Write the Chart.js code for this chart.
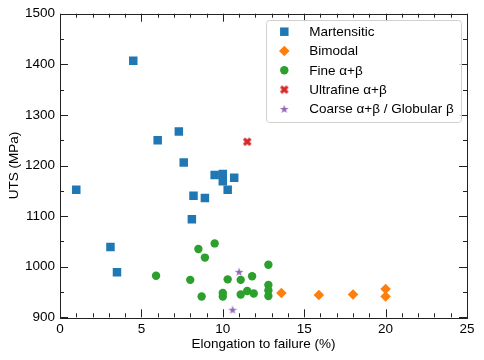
<!DOCTYPE html>
<html>
<head>
<meta charset="utf-8">
<script src="https://cdn.jsdelivr.net/npm/chart.js@4.4.1/dist/chart.umd.min.js"></script>
<style>
  html, body { margin: 0; padding: 0; background: #fff; }
</style>
</head>
<body>
<canvas id="uts" width="484" height="360"></canvas>
<script>
// --- dati ---
const martX = [1.0, 3.1, 3.5, 4.5, 6.0, 7.3, 7.6, 8.1, 8.2, 8.9, 9.5, 10.0, 10.0, 10.3, 10.7];
const martY = [1152, 1039, 989, 1407, 1250, 1267, 1206, 1094, 1140, 1136, 1181, 1183, 1169, 1152, 1176];

const bimoX = [13.6, 15.9, 18.0, 20.0, 20.0];
const bimoY = [948, 944, 945, 956, 941];

const fineX = [5.9, 8.0, 8.5, 8.7, 8.9, 9.5, 10.0, 10.0, 10.3, 11.1, 11.1, 11.5, 11.8, 11.9, 12.8, 12.8, 12.8, 12.8];
const fineY = [982, 974, 1035, 941, 1018, 1046, 948, 941, 975, 974, 945, 952, 981, 947, 1004, 964, 953, 942];

const ultraX = [11.5];
const ultraY = [1247];

const coarseX = [11.0, 10.6];
const coarseY = [990, 915];

const labels = ['Martensitic', 'Bimodal', 'Fine α+β', 'Ultrafine α+β', 'Coarse α+β / Globular β'];
const colors = ['#1f77b4', '#ff7f0e', '#2ca02c', '#d62728', '#9467bd'];

const xTicks = [0, 5, 10, 15, 20, 25];
const yTicks = [900, 1000, 1100, 1200, 1300, 1400, 1500];

const FONT = '"Liberation Sans", Arial, sans-serif';
const FSIZE = 13.5;

// --- marker personalizzati (X pieno e stella piena) ---
function makeX(color) {
  const c = document.createElement('canvas');
  c.width = 10; c.height = 10;
  const g = c.getContext('2d');
  g.strokeStyle = color;
  g.lineWidth = 3.2;
  g.beginPath();
  g.moveTo(1.8, 1.8); g.lineTo(8.2, 8.2);
  g.moveTo(8.2, 1.8); g.lineTo(1.8, 8.2);
  g.stroke();
  return c;
}

function makeStar(color) {
  const c = document.createElement('canvas');
  c.width = 10; c.height = 10;
  const g = c.getContext('2d');
  g.fillStyle = color;
  g.beginPath();
  for (let i = 0; i < 10; i++) {
    const r = i % 2 === 0 ? 4.6 : 1.8;
    const a = -Math.PI / 2 + i * Math.PI / 5;
    g.lineTo(5 + r * Math.cos(a), 5.4 + r * Math.sin(a));
  }
  g.closePath();
  g.fill();
  return c;
}

const styles = ['rect', 'rectRot', 'circle', makeX(colors[3]), makeStar(colors[4])];
const radii = [6, 5.3, 4.2, 5, 5];

function pts(xs, ys) {
  return xs.map((v, i) => ({ x: v, y: ys[i] }));
}

const series = [pts(martX, martY), pts(bimoX, bimoY), pts(fineX, fineY), pts(ultraX, ultraY), pts(coarseX, coarseY)];

// --- tacche interne su tutti i lati + cornice ---
const frameTicks = {
  id: 'frameTicks',
  afterDatasetsDraw(chart) {
    const { ctx, chartArea: a, scales: { x, y } } = chart;
    ctx.save();
    ctx.strokeStyle = '#222';
    ctx.lineWidth = 1;
    ctx.beginPath();
    for (let v = 0; v <= 25; v += 1) {
      const px = Math.round(x.getPixelForValue(v)) + 0.5;
      const len = v % 5 === 0 ? 8 : 4;
      ctx.moveTo(px, a.bottom); ctx.lineTo(px, a.bottom - len);
      ctx.moveTo(px, a.top); ctx.lineTo(px, a.top + len);
    }
    for (let v = 900; v <= 1500; v += 50) {
      const py = Math.round(y.getPixelForValue(v)) + 0.5;
      const len = v % 100 === 0 ? 8 : 4;
      ctx.moveTo(a.left, py); ctx.lineTo(a.left + len, py);
      ctx.moveTo(a.right, py); ctx.lineTo(a.right - len, py);
    }
    ctx.stroke();
    ctx.strokeRect(Math.round(a.left) + 0.5, Math.round(a.top) + 0.5, Math.round(a.width), Math.round(a.height));
    ctx.restore();
  }
};

// --- legenda in stile matplotlib ---
function drawMarker(ctx, i, cx, cy) {
  const st = styles[i], r = radii[i];
  ctx.fillStyle = colors[i];
  if (st instanceof HTMLCanvasElement) {
    ctx.drawImage(st, cx - st.width / 2, cy - st.height / 2);
    return;
  }
  ctx.beginPath();
  if (st === 'rect') {
    const s = Math.SQRT1_2 * r;
    ctx.rect(cx - s, cy - s, 2 * s, 2 * s);
  } else if (st === 'rectRot') {
    ctx.moveTo(cx, cy - r); ctx.lineTo(cx + r, cy); ctx.lineTo(cx, cy + r); ctx.lineTo(cx - r, cy);
    ctx.closePath();
  } else {
    ctx.arc(cx, cy, r, 0, Math.PI * 2);
  }
  ctx.fill();
}

const boxLegend = {
  id: 'boxLegend',
  afterDraw(chart) {
    const ctx = chart.ctx;
    const bx = 266, by = 20, bw = 195, bh = 102, rad = 3;
    ctx.save();
    ctx.beginPath();
    ctx.roundRect(bx + 0.5, by + 0.5, bw, bh, rad);
    ctx.fillStyle = 'rgba(255,255,255,0.8)';
    ctx.fill();
    ctx.strokeStyle = '#d0d0d0';
    ctx.lineWidth = 1;
    ctx.stroke();
    ctx.font = FSIZE + 'px ' + FONT;
    ctx.textBaseline = 'middle';
    ctx.fillStyle = '#000';
    labels.forEach((lab, i) => {
      const cy = 31.7 + i * 19.3;
      drawMarker(ctx, i, 284.3, cy);
      ctx.fillStyle = '#000';
      ctx.fillText(lab, 309.3, cy + 0.5);
    });
    ctx.restore();
  }
};

const chart = new Chart(document.getElementById('uts').getContext('2d'), {
  type: 'scatter',
  data: {
    datasets: series.map((d, i) => ({
      label: labels[i],
      data: d,
      backgroundColor: colors[i],
      borderColor: colors[i],
      borderWidth: 0,
      pointStyle: styles[i],
      pointRadius: radii[i],
      pointHoverRadius: radii[i],
      order: 4 - i
    }))
  },
  options: {
    responsive: false,
    animation: false,
    events: [],
    layout: { padding: { top: 13.7, right: 17, left: 0, bottom: 0 } },
    plugins: {
      legend: { display: false },
      tooltip: { enabled: false }
    },
    scales: {
      x: {
        type: 'linear',
        min: 0,
        max: 25,
        afterBuildTicks: s => { s.ticks = xTicks.map(v => ({ value: v })); },
        afterFit: s => { s.height = 42.7; },
        grid: { display: false, drawTicks: false },
        border: { display: false },
        ticks: {
          color: '#000',
          font: { family: FONT, size: FSIZE },
          padding: 4,
          maxRotation: 0,
          autoSkip: false,
          callback: v => String(v)
        },
        title: {
          display: true,
          text: 'Elongation to failure (%)',
          color: '#000',
          font: { family: FONT, size: FSIZE },
          padding: { top: 0, bottom: 8 }
        }
      },
      y: {
        type: 'linear',
        min: 900,
        max: 1500,
        afterBuildTicks: s => { s.ticks = yTicks.map(v => ({ value: v })); },
        afterFit: s => { s.width = 60; },
        grid: { display: false, drawTicks: false },
        border: { display: false },
        ticks: {
          color: '#000',
          font: { family: FONT, size: FSIZE },
          padding: 5,
          autoSkip: false,
          callback: v => String(v)
        },
        title: {
          display: true,
          text: 'UTS (MPa)',
          color: '#000',
          font: { family: FONT, size: FSIZE },
          padding: { top: 6, bottom: 0 }
        }
      }
    }
  },
  plugins: [frameTicks, boxLegend]
});
</script>
</body>
</html>
